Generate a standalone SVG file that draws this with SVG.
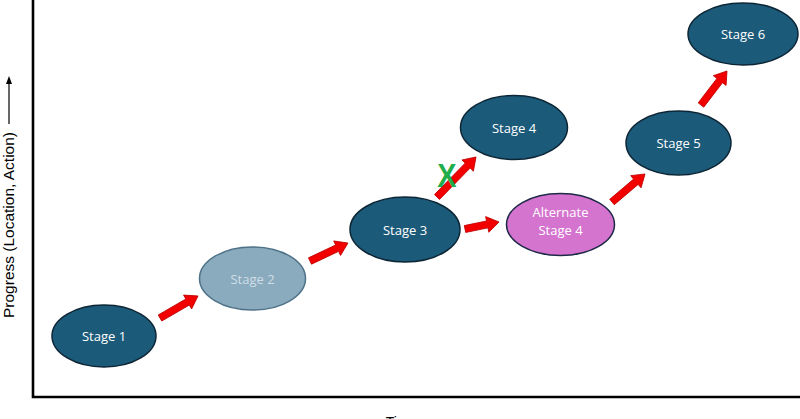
<svg xmlns="http://www.w3.org/2000/svg" width="800" height="419" viewBox="0 0 800 419">
<style>
.stage ellipse{fill:#1c5a7a;stroke:#0d2636;stroke-width:1.5}
.stage text{fill:#ffffff;font-family:"Open Sans","Liberation Sans",sans-serif;font-size:13px;text-anchor:middle}
.ghost ellipse{fill:#8aaabd;stroke:#4f7288;stroke-width:1.5}
.ghost text{fill:#cfdee7}
.alt ellipse{fill:#d574cf;stroke:#1f2a48;stroke-width:1.5}
.arrow{fill:#f20000;stroke:#c00000;stroke-width:0.8}
.axis{stroke:#000;stroke-width:2.6;fill:none}
.label{font-family:"Liberation Sans",Arial,sans-serif;font-size:14px;fill:#000}
</style>
<rect width="800" height="419" fill="#ffffff"/>
<g id="axes">
<path class="axis" d="M33,0 V397 H800"/>
<text class="label" transform="translate(14,318) rotate(-90)" textLength="186" lengthAdjust="spacingAndGlyphs" font-size="15">Progress (Location, Action)</text>
<line x1="9" y1="124" x2="9" y2="82" stroke="#000" stroke-width="1.2"/>
<path d="M9,76 L6,84 L12,84 Z" fill="#000"/>
<text class="label" x="401" y="427" text-anchor="middle">Time</text>
</g>
<g id="connectors">
<polygon class="arrow" transform="translate(160,318) rotate(-30.1)" points="0,-3.5 31.9,-3.5 31.9,-8 43.9,0 31.9,8 31.9,3.5 0,3.5"/>
<polygon class="arrow" transform="translate(310,261) rotate(-25.3)" points="0,-3.5 30,-3.5 30,-8 42,0 30,8 30,3.5 0,3.5"/>
<polygon class="arrow" transform="translate(437,197) rotate(-45.7)" points="0,-3.5 43.9,-3.5 43.9,-8 55.9,0 43.9,8 43.9,3.5 0,3.5"/>
<polygon class="arrow" transform="translate(465,229) rotate(-11.6)" points="0,-3.5 22.7,-3.5 22.7,-8 34.7,0 22.7,8 22.7,3.5 0,3.5"/>
<polygon class="arrow" transform="translate(612,202) rotate(-40.3)" points="0,-3.5 31.3,-3.5 31.3,-8 43.3,0 31.3,8 31.3,3.5 0,3.5"/>
<polygon class="arrow" transform="translate(701,105) rotate(-52.6)" points="0,-3.5 30.8,-3.5 30.8,-8 42.8,0 30.8,8 30.8,3.5 0,3.5"/>
<text id="blocked" x="447" y="187" text-anchor="middle" font-family="Liberation Sans,Arial,sans-serif" font-weight="bold" font-size="34" fill="#1fae4b" transform="translate(447,0) scale(0.85,1) translate(-447,0)">X</text>
</g>
<g id="stage1" class="stage"><ellipse cx="104" cy="336" rx="52" ry="31"/><text x="104" y="341">Stage 1</text></g>
<g id="stage2" class="stage ghost"><ellipse cx="252.5" cy="278.5" rx="53" ry="31.5"/><text x="252.5" y="283.5">Stage 2</text></g>
<g id="stage3" class="stage"><ellipse cx="405" cy="229.5" rx="55" ry="32.5"/><text x="405" y="234.5">Stage 3</text></g>
<g id="stage4" class="stage"><ellipse cx="514" cy="127.5" rx="53.5" ry="32"/><text x="514" y="132.5">Stage 4</text></g>
<g id="alt4" class="stage alt"><ellipse cx="560.5" cy="224.5" rx="54" ry="31"/><text x="560.5" y="217">Alternate</text><text x="560.5" y="235">Stage 4</text></g>
<g id="stage5" class="stage"><ellipse cx="678.5" cy="143" rx="52.5" ry="32"/><text x="678.5" y="148">Stage 5</text></g>
<g id="stage6" class="stage"><ellipse cx="743" cy="34" rx="55" ry="31"/><text x="743" y="39">Stage 6</text></g>
</svg>
